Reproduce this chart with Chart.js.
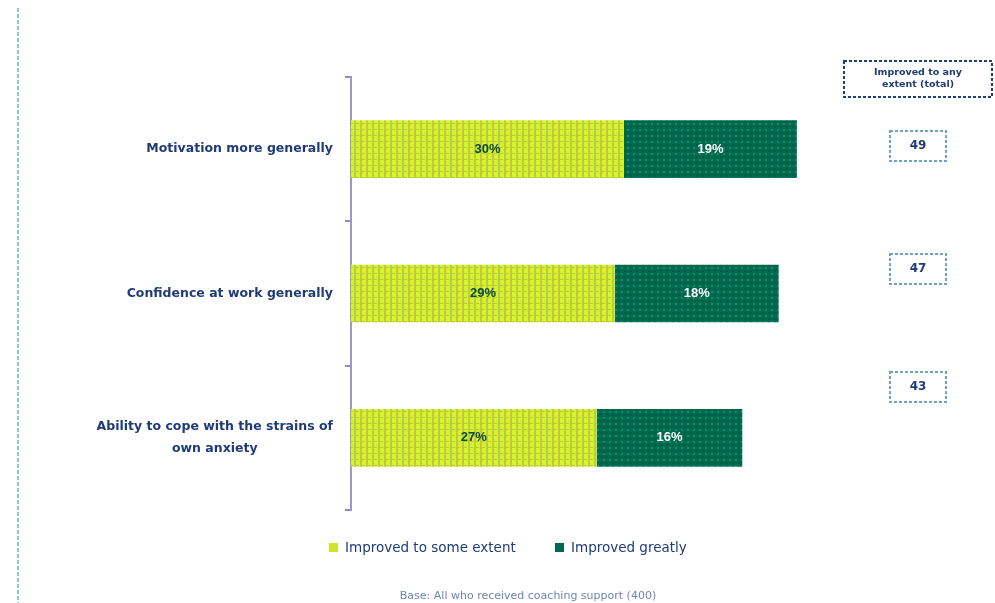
<!DOCTYPE html>
<html>
<head>
<meta charset="utf-8">
<script src="https://cdn.jsdelivr.net/npm/chart.js@4.4.0/dist/chart.umd.min.js"></script>
<style>
  html, body { margin: 0; padding: 0; background: #fff; }
  #wrap { width: 995px; height: 603px; position: relative; }
</style>
</head>
<body>
<div id="wrap"><canvas id="improveChart" width="995" height="603"></canvas></div>
<script>
// categories and the two stacked series (percent of respondents)
const categories = [
    ['Motivation more generally'],
    ['Confidence at work generally'],
    ['Ability to cope with the strains of', 'own anxiety']
];
const someExtent = [30, 29, 27];
const greatDeal = [19, 18, 16];
const seriesNames = ['Improved to some extent', 'Improved greatly'];
const totalHeading = ['Improved to any', 'extent (total)'];
const baseNote = 'Base: All who received coaching support (400)';

const navy = '#1f3b78';
const font = '"DejaVu Sans", Verdana, sans-serif';

// small tiles so the bars get the woven texture
function makePattern(base, draw) {
    const c = document.createElement('canvas');
    c.width = 6; c.height = 6;
    const g = c.getContext('2d');
    g.fillStyle = base;
    g.fillRect(0, 0, 6, 6);
    draw(g);
    return c.getContext('2d').createPattern(c, 'repeat');
}
const yellowFill = makePattern('#d3f52e', g => {
    g.fillStyle = '#c8c63c';
    g.fillRect(0, 0, 2, 6);
    g.fillStyle = '#aed032';
    g.fillRect(2, 3, 3, 1);
});
const greenFill = makePattern('#00684f', g => {
    g.fillStyle = '#00936a';
    g.fillRect(3, 3, 2, 2);
    g.fillStyle = '#005c44';
    g.fillRect(0, 0, 2, 2);
});

// labels, legend, total boxes and notes drawn straight on the canvas
const extras = {
    id: 'extras',
    afterDraw(chart) {
        const ctx = chart.ctx;
        const y = chart.scales.y;
        ctx.save();

        // left rule
        ctx.strokeStyle = '#8fc6c8';
        ctx.lineWidth = 2;
        ctx.setLineDash([4, 2]);
        ctx.beginPath();
        ctx.moveTo(18, 8);
        ctx.lineTo(18, 603);
        ctx.stroke();
        ctx.setLineDash([]);

        // category labels, lines centred on each other, block right aligned
        ctx.font = 'bold 12.5px ' + font;
        ctx.fillStyle = navy;
        ctx.textAlign = 'center';
        ctx.textBaseline = 'middle';
        categories.forEach((lines, i) => {
            const cy = y.getPixelForValue(i);
            const w = Math.max(...lines.map(l => ctx.measureText(l).width));
            const cx = 333 - w / 2;
            const top = cy - (lines.length - 1) * 11;
            lines.forEach((l, k) => ctx.fillText(l, cx, top + k * 22));
        });

        // value labels inside the bars
        ctx.font = 'bold 13px "Liberation Sans", Arial, sans-serif';
        chart.data.datasets.forEach((ds, d) => {
            chart.getDatasetMeta(d).data.forEach((bar, i) => {
                const p = bar.getProps(['x', 'y', 'base'], true);
                ctx.fillStyle = d === 0 ? '#0b4a3a' : '#ffffff';
                ctx.fillText(ds.data[i] + '%', (p.x + p.base) / 2, p.y);
            });
        });

        // heading box for the totals column
        ctx.strokeStyle = '#1c3f77';
        ctx.lineWidth = 2;
        ctx.setLineDash([3, 2]);
        ctx.strokeRect(844, 61, 148, 36);
        ctx.setLineDash([]);
        ctx.font = 'bold 9.5px ' + font;
        ctx.fillStyle = navy;
        ctx.fillText(totalHeading[0], 918, 73);
        ctx.fillText(totalHeading[1], 918, 85);

        // total boxes
        const boxY = [146, 269, 387];
        ctx.font = 'bold 12px ' + font;
        someExtent.forEach((v, i) => {
            ctx.strokeStyle = '#6fa3c0';
            ctx.lineWidth = 2;
            ctx.setLineDash([3, 2]);
            ctx.strokeRect(890, boxY[i] - 15, 56, 30);
            ctx.setLineDash([]);
            ctx.fillStyle = navy;
            ctx.fillText(String(v + greatDeal[i]), 918, boxY[i]);
        });

        // legend
        ctx.textAlign = 'left';
        ctx.font = '13.5px ' + font;
        const legendX = [329, 555];
        [0, 1].forEach(i => {
            ctx.fillStyle = i === 0 ? '#cde52e' : '#006a50';
            ctx.fillRect(legendX[i], 543, 9, 9);
            ctx.fillStyle = navy;
            ctx.fillText(seriesNames[i], legendX[i] + 16, 548);
        });

        // base note
        ctx.textAlign = 'center';
        ctx.font = '11px ' + font;
        ctx.fillStyle = '#6d86b0';
        ctx.fillText(baseNote, 528, 596);

        ctx.restore();
    }
};

const ctx = document.getElementById('improveChart').getContext('2d');
const improveChart = new Chart(ctx, {
    type: 'bar',
    data: {
        labels: categories,
        datasets: [{
            label: seriesNames[0],
            data: someExtent,
            backgroundColor: yellowFill,
            borderWidth: 0
        }, {
            label: seriesNames[1],
            data: greatDeal,
            backgroundColor: greenFill,
            borderWidth: 0
        }]
    },
    options: {
        indexAxis: 'y',
        responsive: false,
        animation: false,
        layout: { padding: { top: 77, bottom: 93, right: 7, left: 0 } },
        categoryPercentage: 0.8,
        barPercentage: 0.5,
        plugins: {
            legend: { display: false },
            tooltip: { enabled: false }
        },
        scales: {
            x: {
                stacked: true,
                display: false,
                min: 0,
                max: 70
            },
            y: {
                stacked: true,
                afterFit(axis) { axis.width = 351; },
                ticks: { display: false },
                border: { display: true, color: '#9a98cc', width: 2 },
                grid: {
                    offset: true,
                    drawOnChartArea: false,
                    drawTicks: true,
                    tickLength: 6,
                    color: '#8c8cc4',
                    lineWidth: 2
                }
            }
        }
    },
    plugins: [extras]
});
</script>
</body>
</html>
